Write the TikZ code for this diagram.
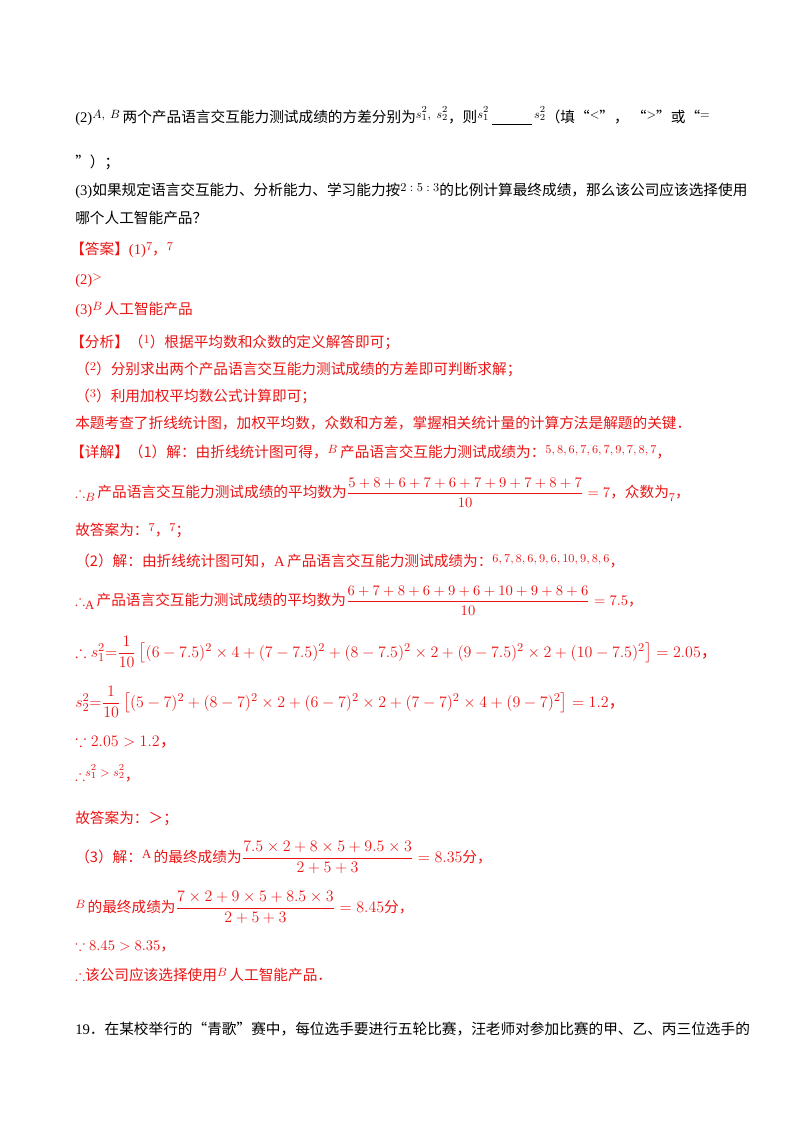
\documentclass[tikz,border=0pt]{standalone}
\usepackage{amsmath,amssymb}
\usepackage{fontspec}
\setmainfont{Liberation Serif}
\newfontfamily\cjk{Noto Sans CJK SC}
\definecolor{ans}{RGB}{235,20,20}
\tikzset{ln/.style={anchor=base west,inner sep=0pt,font=\fontsize{11}{13}\selectfont},
 rd/.style={ln,text=ans}}
\newcommand{\zh}[1]{{\cjk #1}}
\newcommand{\up}[1]{\raisebox{3pt}{\fontsize{9.5}{11}\selectfont$#1$}}
\newcommand{\dn}[1]{\raisebox{-3pt}{\fontsize{9.5}{11}\selectfont$#1$}}
\begin{document}
\begin{tikzpicture}[x=0.75pt,y=-0.75pt]
\useasboundingbox (0,0) rectangle (800,1132);
\node[ln] (l1) at (75,122) {(2)\up{A,\ B}\,\zh{两个产品语言交互能力测试成绩的方差分别为}\up{s_1^2,\ s_2^2}\zh{，则}\up{s_1^2}\,\underline{\hspace{30pt}}\,\up{s_2^2}\zh{（填“}\up{<}\zh{”，\ “}\up{>}\zh{”或“}\up{=}};
\node[ln] (l2) at (75,167) {\zh{”）；}};
\node[ln] (l3) at (75,195) {(3)\zh{如果规定语言交互能力、分析能力、学习能力按}\up{2:5:3}\zh{的比例计算最终成绩，那么该公司应该选择使用}};
\node[ln] (l4) at (75,223) {\zh{哪个人工智能产品？}};
\node[rd] (a1) at (70,254) {\zh{【答案】}(1)\up{7}\zh{，}\up{7}};
\node[rd] (a2) at (75,284) {(2)\up{>}};
\node[rd] (a3) at (75,314) {(3)\up{B}\,\zh{人工智能产品}};
\node[rd] (f1) at (70,347) {\zh{【分析】（}\up{1}\zh{）根据平均数和众数的定义解答即可；}};
\node[rd] (f2) at (75,374) {\zh{（}\up{2}\zh{）分别求出两个产品语言交互能力测试成绩的方差即可判断求解；}};
\node[rd] (f3) at (75,401) {\zh{（}\up{3}\zh{）利用加权平均数公式计算即可；}};
\node[rd] (f4) at (75,428) {\zh{本题考查了折线统计图，加权平均数，众数和方差，掌握相关统计量的计算方法是解题的关键．}};
\node[rd] (d1) at (70,457) {\zh{【详解】（1）解：由折线统计图可得，}\up{B}\,\zh{产品语言交互能力测试成绩为：}\up{5,8,6,7,6,7,9,7,8,7}\zh{，}};
\node[rd] (d2) at (75,497) {$\therefore$\dn{B}\,\zh{产品语言交互能力测试成绩的平均数为}$\dfrac{5+8+6+7+6+7+9+7+8+7}{10}=7$\zh{，众数为}\dn{7}\zh{，}};
\node[rd] (d3) at (75,535) {\zh{故答案为：}\up{7}\zh{，}\up{7}\zh{；}};
\node[rd] (d4) at (75,566) {\zh{（2）解：由折线统计图可知，}A\,\zh{产品语言交互能力测试成绩为：}\up{6,7,8,6,9,6,10,9,8,6}\zh{，}};
\node[rd] (d5) at (75,605) {$\therefore$\dn{\mathrm{A}}\,\zh{产品语言交互能力测试成绩的平均数为}$\dfrac{6+7+8+6+9+6+10+9+8+6}{10}=7.5$\zh{，}};
\node[rd,font=\fontsize{12.5}{14}\selectfont] (d6) at (75,657) {$\therefore s_1^2{=}\dfrac{1}{10}\left[(6-7.5)^2\times4+(7-7.5)^2+(8-7.5)^2\times2+(9-7.5)^2\times2+(10-7.5)^2\right]=2.05$\zh{，}};
\node[rd,font=\fontsize{12.5}{14}\selectfont] (d7) at (75,707) {$s_2^2{=}\dfrac{1}{10}\left[(5-7)^2+(8-7)^2\times2+(6-7)^2\times2+(7-7)^2\times4+(9-7)^2\right]=1.2$\zh{，}};
\node[rd,font=\fontsize{12.5}{14}\selectfont] (d8) at (75,746) {$\because 2.05>1.2$\zh{，}};
\node[rd] (d9) at (75,780) {$\therefore$\up{s_1^2>s_2^2}\zh{，}};
\node[rd] (d10) at (75,823) {\zh{故答案为：＞；}};
\node[rd] (d11) at (75,862) {\zh{（3）解：}\up{\mathrm{A}}\,\zh{的最终成绩为}{\fontsize{12.5}{14}\selectfont$\dfrac{7.5\times2+8\times5+9.5\times3}{2+5+3}=8.35$}\zh{分，}};
\node[rd] (d12) at (75,912) {\up{B}\,\zh{的最终成绩为}{\fontsize{12.5}{14}\selectfont$\dfrac{7\times2+9\times5+8.5\times3}{2+5+3}=8.45$}\zh{分，}};
\node[rd] (d13) at (75,950) {$\because 8.45>8.35$\zh{，}};
\node[rd] (d14) at (75,980) {$\therefore$\zh{该公司应该选择使用}\up{B}\,\zh{人工智能产品．}};
\node[ln] (q19) at (75,1034) {19\zh{．在某校举行的“青歌”赛中，每位选手要进行五轮比赛，汪老师对参加比赛的甲、乙、丙三位选手的}};
\end{tikzpicture}
\end{document}
